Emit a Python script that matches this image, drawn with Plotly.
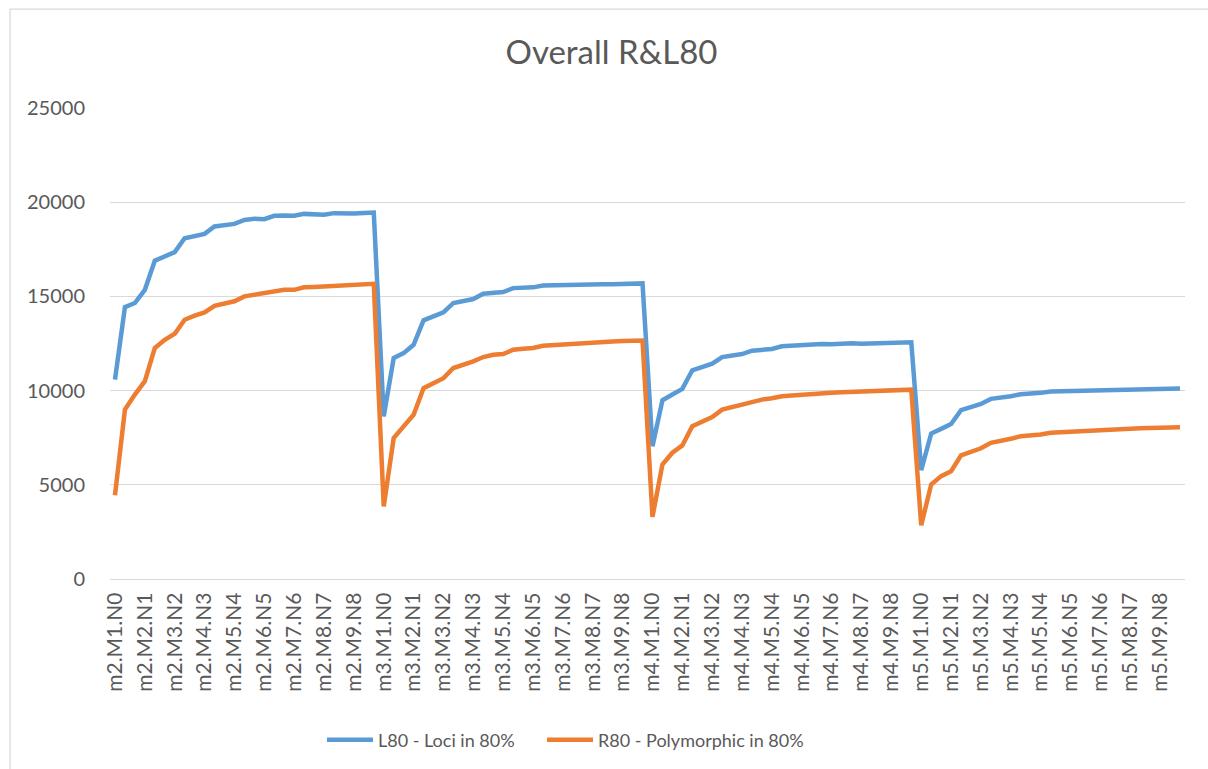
import plotly.graph_objects as go

# ---- data ----
groups = ["m2", "m3", "m4", "m5"]
M_values = [1, 2, 3, 4, 5, 6, 7, 8, 9]
N_offsets = [-1, 0, 1]  # N = M-1, M, M+1

categories = [f"{g}.M{m}.N{m + o}" for g in groups for m in M_values for o in N_offsets]
tick_labels = [f"{g}.M{m}.N{m - 1}" for g in groups for m in M_values]

L80 = [
    # m2
    10580, 14430, 14650, 15350, 16890, 17120, 17350, 18090, 18180, 18320, 18710, 18800, 18850, 19060,
    19120, 19100, 19280, 19290, 19280, 19380, 19380, 19330, 19420, 19400, 19400, 19430, 19450,
    # m3
    8630, 11730, 11990, 12430, 13730, 13940, 14150, 14650, 14740, 14860, 15140, 15210, 15230, 15440,
    15480, 15480, 15580, 15600, 15570, 15640, 15640, 15620, 15650, 15650, 15660, 15690, 15690,
    # m4
    7050, 9490, 9790, 10090, 11080, 11240, 11430, 11780, 11860, 11940, 12120, 12170, 12210, 12350,
    12390, 12420, 12470, 12470, 12460, 12510, 12510, 12490, 12510, 12530, 12530, 12540, 12560,
    # m5
    5780, 7720, 7970, 8230, 8960, 9120, 9290, 9560, 9610, 9700, 9810, 9820, 9880, 9950,
    9960, 9960, 10000, 10000, 10000, 10030, 10030, 10030, 10050, 10050, 10070, 10090, 10110,
]

R80 = [
    # m2
    4450, 8990, 9790, 10500, 12260, 12700, 13020, 13760, 13980, 14150, 14500, 14650, 14740, 15000,
    15090, 15120, 15270, 15350, 15350, 15480, 15500, 15530, 15570, 15580, 15620, 15650, 15670,
    # m3
    3850, 7480, 8100, 8720, 10130, 10400, 10660, 11200, 11370, 11550, 11780, 11900, 11940, 12170,
    12220, 12260, 12380, 12420, 12420, 12490, 12500, 12520, 12590, 12610, 12630, 12650, 12660,
    # m4
    3300, 6080, 6700, 7090, 8110, 8380, 8590, 8990, 9120, 9260, 9440, 9520, 9590, 9700,
    9740, 9790, 9840, 9860, 9880, 9910, 9930, 9950, 9980, 10000, 10020, 10040, 10050,
    # m5
    2850, 5020, 5460, 5720, 6560, 6730, 6940, 7230, 7310, 7440, 7580, 7620, 7670, 7760,
    7790, 7830, 7880, 7900, 7920, 7950, 7970, 7990, 8000, 8020, 8040, 8060, 8060,
]

y_ticks = [0, 5000, 10000, 15000, 20000, 25000]

BLUE = "#5B9BD5"
ORANGE = "#ED7D31"
GRID = "#D9D9D9"
TEXT = "#595959"
FONT = "Lato"

W, H = 1208, 769
PX_L, PX_R, PX_T, PX_B = 110, 1185, 108, 580  # plot area in pixels
L, T, R, B = PX_L, PX_T, W - PX_R, H - PX_B
pw, ph = PX_R - PX_L, PX_B - PX_T


def px_x(p):
    return (p - PX_L) / pw


def px_y(p):
    return (PX_B - p) / ph


fig = go.Figure()
fig.add_trace(go.Scatter(x=categories, y=L80, mode="lines", name="L80 - Loci in 80%",
                         line=dict(color=BLUE, width=4.5), legend="legend"))
fig.add_trace(go.Scatter(x=categories, y=R80, mode="lines", name="R80 - Polymorphic in 80%",
                         line=dict(color=ORANGE, width=4.5), legend="legend2"))

legend_common = dict(orientation="h", xanchor="left", yanchor="middle",
                     font=dict(family=FONT, size=18, color=TEXT), itemwidth=46,
                     bgcolor="rgba(0,0,0,0)")

border = dict(color=GRID, width=1.3)

fig.update_layout(
    width=W, height=H,
    margin=dict(l=L, r=R, t=T, b=B, pad=0),
    paper_bgcolor="white", plot_bgcolor="white",
    font=dict(family=FONT, color=TEXT),
    title=dict(text="Overall R&L80", x=611.5 / W, xanchor="center",
               y=1 - 52 / H, yanchor="middle",
               font=dict(family=FONT, size=33, color=TEXT)),
    showlegend=True,
    legend=dict(x=px_x(322), y=px_y(740), **legend_common),
    legend2=dict(x=px_x(542), y=px_y(740), **legend_common),
    xaxis=dict(type="category", categoryorder="array", categoryarray=categories,
               tickmode="array", tickvals=tick_labels, ticktext=tick_labels,
               tickangle=-90, tickfont=dict(family=FONT, size=21, color=TEXT),
               showgrid=False, showline=True, linecolor=GRID, linewidth=1.3,
               ticks="outside", ticklen=4, tickcolor="rgba(0,0,0,0)",
               zeroline=False, automargin=False, range=[-0.5, len(categories) - 0.5]),
    yaxis=dict(range=[0, 25000], tickmode="array", tickvals=y_ticks,
               ticktext=[str(v) for v in y_ticks],
               tickfont=dict(family=FONT, size=20, color=TEXT),
               showgrid=True, gridcolor=GRID, gridwidth=1.3, zeroline=False,
               showline=False, ticks="outside", ticklen=20, tickcolor="rgba(0,0,0,0)",
               automargin=False),
    shapes=[
        dict(type="line", xref="paper", yref="paper",
             x0=px_x(10), x1=px_x(1260), y0=px_y(9), y1=px_y(9), line=border, layer="below"),
        dict(type="line", xref="paper", yref="paper",
             x0=px_x(10), x1=px_x(10), y0=px_y(9), y1=px_y(800), line=border, layer="below"),
    ],
)

fig.write_html(
    "out.html",
    config={"displayModeBar": False},
    post_script="document.body.style.margin='0';document.body.style.overflow='hidden';",
)
